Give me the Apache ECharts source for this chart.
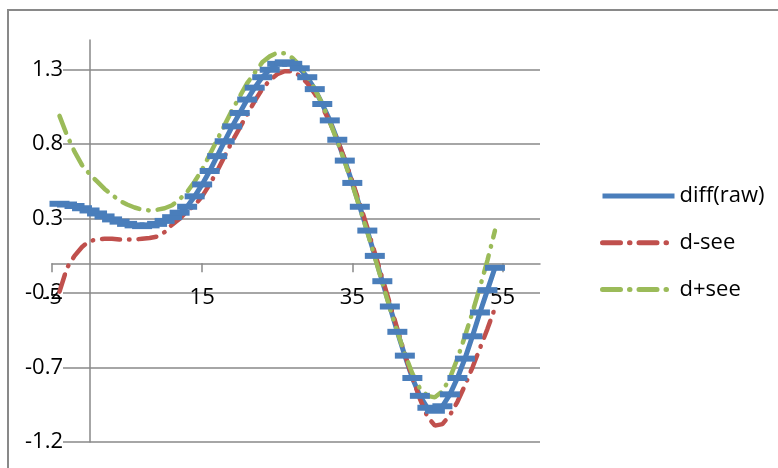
<!DOCTYPE html>
<html><head><meta charset="utf-8">
<script src="https://cdn.jsdelivr.net/npm/echarts@6/dist/echarts.min.js"></script>
<style>html,body{margin:0;padding:0;background:#fff}#c{width:778px;height:468px}</style>
</head><body><div id="c"></div>
<script>
const xValues = [-4,-3,-2,-1,0,1,2,3,4,5,6,7,8,9,10,11,12,13,14,15,16,17,18,19,20,21,22,23,24,25,26,27,28,29,30,31,32,33,34,35,36,37,38,39,40,41,42,43,44,45,46,47,48,49,50,51,52,53,54];
const diffRaw = [0.40,0.395,0.385,0.37,0.355,0.335,0.315,0.295,0.28,0.265,0.255,0.25,0.255,0.265,0.285,0.31,0.34,0.38,0.45,0.53,0.62,0.72,0.82,0.92,1.01,1.10,1.18,1.25,1.30,1.34,1.35,1.34,1.31,1.25,1.17,1.07,0.96,0.83,0.69,0.54,0.38,0.22,0.05,-0.12,-0.29,-0.46,-0.62,-0.77,-0.89,-0.97,-0.99,-0.96,-0.88,-0.77,-0.64,-0.49,-0.33,-0.18,-0.03];
const dMinusSee = [-0.19,-0.03,0.05,0.11,0.15,0.16,0.165,0.165,0.16,0.16,0.16,0.165,0.17,0.18,0.21,0.26,0.30,0.35,0.39,0.45,0.53,0.62,0.72,0.82,0.91,1.00,1.09,1.17,1.23,1.27,1.29,1.29,1.26,1.21,1.14,1.05,0.95,0.83,0.70,0.55,0.40,0.24,0.07,-0.10,-0.27,-0.44,-0.61,-0.77,-0.91,-1.03,-1.09,-1.08,-1.02,-0.93,-0.82,-0.70,-0.57,-0.44,-0.30];
const dPlusSee = [0.99,0.86,0.75,0.66,0.60,0.55,0.50,0.46,0.42,0.395,0.375,0.36,0.355,0.36,0.37,0.39,0.43,0.48,0.55,0.63,0.73,0.83,0.93,1.03,1.12,1.21,1.28,1.35,1.39,1.415,1.41,1.38,1.33,1.26,1.17,1.07,0.95,0.82,0.68,0.53,0.37,0.21,0.04,-0.13,-0.30,-0.46,-0.61,-0.74,-0.84,-0.89,-0.90,-0.86,-0.77,-0.64,-0.49,-0.33,-0.16,0.02,0.22];
const xTicks = [-5, 15, 35, 55];
const yTicks = [-1.2, -0.7, -0.2, 0.3, 0.8, 1.3];
const seriesNames = ['diff(raw)', 'd-see', 'd+see'];
const colors = ['#4a7ebb', '#c0504d', '#9bbb59'];

const pair = arr => xValues.map((x, i) => [x, arr[i]]);
const FONT = 'Open Sans';
const AX = '#898989';

const chart = echarts.init(document.getElementById('c'), null, {renderer: 'canvas'});
chart.setOption({
  backgroundColor: '#fff',
  animation: false,
  graphic: [{
    type: 'rect', z: -10,
    shape: {x: 8, y: 10, width: 820, height: 520},
    style: {fill: 'none', stroke: AX, lineWidth: 2}
  }],
  grid: {left: 52, right: 238, top: 40, bottom: 26, containLabel: false, outerBoundsMode: 'none'},
  legend: {
    orient: 'vertical', left: 595, top: 178,
    itemWidth: 72, itemHeight: 14, itemGap: 20.7,
    data: seriesNames,
    itemStyle: {opacity: 0},
    lineStyle: {width: 5},
    textStyle: {fontSize: 22, fontFamily: FONT, color: '#000', lineHeight: 26}
  },
  xAxis: [{
    type: 'value', min: -5, max: 60, position: 'bottom',
    axisLine: {show: false, onZero: false},
    axisTick: {show: false},
    axisLabel: {customValues: xTicks, margin: -155, fontSize: 22, fontFamily: FONT, color: '#000'},
    splitLine: {show: false}
  }, {
    type: 'value', min: -5, max: 60, position: 'bottom',
    axisLine: {show: true, onZero: true, onZeroAxisIndex: 0, lineStyle: {color: AX, width: 1.5}},
    axisTick: {show: true, inside: false, length: 9, customValues: xTicks, lineStyle: {color: AX, width: 1.5}},
    axisLabel: {show: false},
    splitLine: {show: false}
  }],
  yAxis: [{
    type: 'value', min: -1.2, max: 1.5,
    axisLine: {show: false, onZero: false},
    axisTick: {show: false, customValues: yTicks},
    axisLabel: {customValues: yTicks, margin: -11, fontSize: 22, fontFamily: FONT, color: '#000', backgroundColor: '#fff'},
    splitLine: {show: true, lineStyle: {color: AX, width: 1.5}}
  }, {
    type: 'value', min: -1.2, max: 1.5,
    axisLine: {show: true, onZero: true, onZeroAxisIndex: 0, lineStyle: {color: AX, width: 1.5}},
    axisTick: {show: false},
    axisLabel: {show: false},
    splitLine: {show: false}
  }],
  series: [{
    name: seriesNames[0], type: 'line', xAxisIndex: 0, yAxisIndex: 0, data: pair(diffRaw),
    symbol: 'rect', symbolSize: [20, 6], itemStyle: {color: colors[0]},
    lineStyle: {width: 5, color: colors[0]}
  }, {
    name: seriesNames[1], type: 'line', xAxisIndex: 0, yAxisIndex: 0, data: pair(dMinusSee),
    symbol: 'none', itemStyle: {color: colors[1]},
    lineStyle: {width: 4.5, color: colors[1], type: [18, 9, 0.5, 9], cap: 'round'}
  }, {
    name: seriesNames[2], type: 'line', xAxisIndex: 0, yAxisIndex: 0, data: pair(dPlusSee),
    symbol: 'none', itemStyle: {color: colors[2]},
    lineStyle: {width: 4.5, color: colors[2], type: [18, 9, 0.5, 9], cap: 'round'}
  }]
});
</script></body></html>
